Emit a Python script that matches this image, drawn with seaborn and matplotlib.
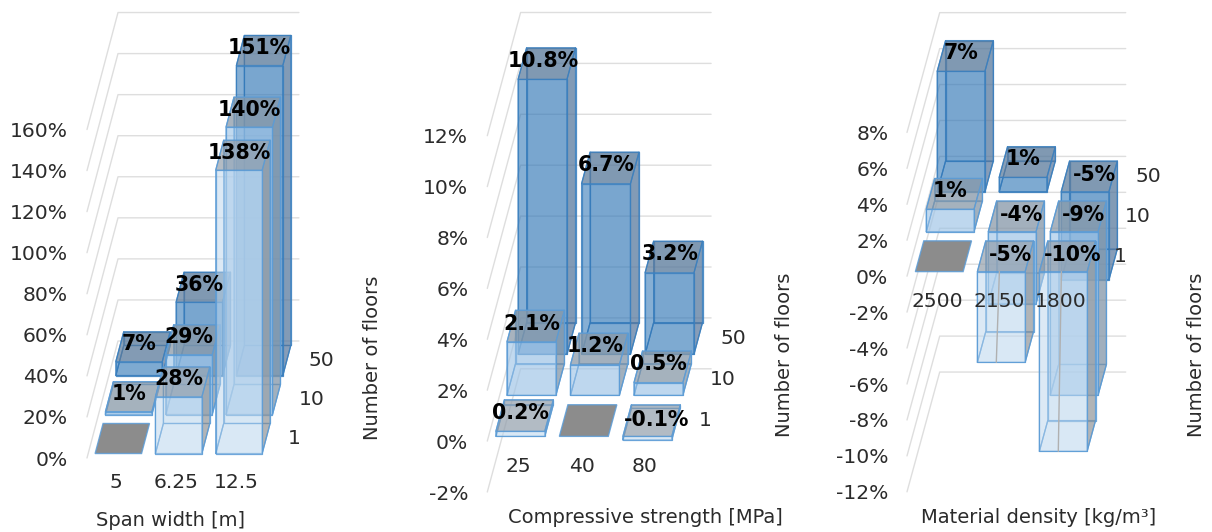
import matplotlib
matplotlib.use("Agg")
import matplotlib.pyplot as plt
from matplotlib.patches import Polygon
import seaborn as sns

# ---------- data ----------
floors = ["1", "10", "50"]

span_labels = ["5", "6.25", "12.5"]
span_floor1 = [0, 27.6, 138]
span_floor10 = [1.4, 29.1, 140]
span_floor50 = [6.7, 35.7, 151]
span_ticks = [0, 20, 40, 60, 80, 100, 120, 140, 160]

strength_labels = ["25", "40", "80"]
strength_floor1 = [0.2, 0, -0.14]
strength_floor10 = [2.1, 1.2, 0.5]
strength_floor50 = [10.8, 6.7, 3.2]
strength_ticks = [-2, 0, 2, 4, 6, 8, 10, 12]

density_labels = ["2500", "2150", "1800"]
density_floor1 = [0, -5.05, -10.0]
density_floor10 = [1.25, -4.0, -9.1]
density_floor50 = [6.7, 0.8, -4.9]
density_ticks = [-12, -10, -8, -6, -4, -2, 0, 2, 4, 6, 8]

x_titles = ["Span width [m]", "Compressive strength [MPa]", "Material density [kg/m³]"]
depth_title = "Number of floors"

# ---------- styling ----------
W, H = 1212, 532
sns.set_theme(style="white")
plt.rcParams["font.family"] = ["DejaVu Sans"]
TXT = "#2B2B2B"
GRID = "#DEDEDE"
FRONT = ["#BDD7EE", "#9DC3E6", "#2E75B6"]
FRONT_A = [0.45, 0.55, 0.50]
SIDE = ["#8C8C8C", "#80909F", "#5A7597"]
SIDE_A = [0.62, 0.66, 0.62]
TOP = ["#8C97A3", "#84929F", "#5C7896"]
TOP_A = [0.62, 0.66, 0.66]
EDGE = [(0.36, 0.61, 0.84, 0.85), (0.36, 0.61, 0.84, 0.9), (0.23, 0.50, 0.75, 0.85)]
GAP = 0.77


def px(n):
    return n * 72 / 100


panels = [
    dict(x0=87, zero=458.0, ppu=2.053, col=60.3, dx=31.0, dy=117.0, pad=19,
         cats=span_labels, rows=[span_floor1, span_floor10, span_floor50],
         ticks=span_ticks, dec=0),
    dict(x0=487.3, zero=441.1, ppu=25.45, col=63.5, dx=33.3, dy=123.2, pad=19,
         cats=strength_labels, rows=[strength_floor1, strength_floor10, strength_floor50],
         ticks=strength_ticks, dec=1),
    dict(x0=907, zero=276.2, ppu=17.97, col=62.0, dx=32.7, dy=119.8, pad=18.7,
         cats=density_labels, rows=[density_floor1, density_floor10, density_floor50],
         ticks=density_ticks, dec=0),
]
title_pos = [(170, 521), (645, 517.5), (1039, 517.5)]
depth_pos = [(373, 358), (785, 355), (1197, 355)]

fig = plt.figure(figsize=(W / 100, H / 100), dpi=100)
fig.patch.set_facecolor("white")

for g, tp, dp, xt in zip(panels, title_pos, depth_pos, x_titles):
    n = len(g["cats"])
    dxc = g["dx"] / g["col"] / len(floors)      # per floor row, in column units
    dyv = g["dy"] / g["ppu"] / len(floors)      # per floor row, in value units
    width = n * g["col"] + g["dx"]
    ax = fig.add_axes([g["x0"] / W, 0, width / W, 1])
    ax.set_xlim(0, width / g["col"])
    ax.set_ylim(-(H - g["zero"]) / g["ppu"], g["zero"] / g["ppu"])
    ax.patch.set_alpha(0)
    sns.despine(ax=ax, left=True, bottom=True)
    ax.set_xticks([])
    ax.set_yticks(g["ticks"])
    ax.set_yticklabels([f"{t}%" for t in g["ticks"]], fontsize=14.6, color=TXT)
    ax.tick_params(axis="y", length=0, pad=px(g["pad"]))

    def P(x, d, v):
        return (x + d * dxc, v + d * dyv)

    # walls
    top_d = len(floors)
    for t in g["ticks"]:
        pts = [P(0, 0, t), P(0, top_d, t), P(n, top_d, t)]
        ax.plot(*zip(*pts), color=GRID, lw=1.0, zorder=1, clip_on=False)

    z = 2
    for r in reversed(range(len(floors))):
        for c in range(n):
            val = g["rows"][r][c]
            xl, xr = c + (1 - GAP) / 2, c + (1 + GAP) / 2
            d0, d1 = r + (1 - GAP) / 2, r + (1 + GAP) / 2
            lo, hi = min(val, 0), max(val, 0)
            ec = EDGE[r]
            if val == 0:
                ax.add_patch(Polygon([P(xl, d0, 0), P(xr, d0, 0), P(xr, d1, 0), P(xl, d1, 0)],
                                     fc="#8C8C8C", ec=ec, lw=1.0, zorder=z))
                z += 1
                continue
            faces = [
                ([P(xl, d1, lo), P(xr, d1, lo), P(xr, d1, hi), P(xl, d1, hi)], FRONT[r], FRONT_A[r] * 0.55),
                ([P(xl, d0, lo), P(xl, d1, lo), P(xl, d1, hi), P(xl, d0, hi)], FRONT[r], FRONT_A[r] * 0.30),
                ([P(xl, d0, lo), P(xr, d0, lo), P(xr, d1, lo), P(xl, d1, lo)], FRONT[r], FRONT_A[r] * 0.45),
                ([P(xr, d0, lo), P(xr, d1, lo), P(xr, d1, hi), P(xr, d0, hi)], SIDE[r], SIDE_A[r]),
                ([P(xl, d0, lo), P(xr, d0, lo), P(xr, d0, hi), P(xl, d0, hi)], FRONT[r], FRONT_A[r]),
                ([P(xl, d0, hi), P(xr, d0, hi), P(xr, d1, hi), P(xl, d1, hi)], TOP[r], TOP_A[r]),
            ]
            for pts, fc, a in faces:
                rgba = matplotlib.colors.to_rgba(fc, a)
                ax.add_patch(Polygon(pts, fc=rgba, ec=ec, lw=0.9, zorder=z, joinstyle="round"))
                z += 1
            if val < 0 and r == 0 and g["dec"] == 0:
                xm = (xl + xr) / 2 - 0.03
                a0, b0 = P(xm, d0, 0)
                ax.plot([a0, a0 - 0.05], [b0, val + d0 * dyv], color="#B0B0B0", lw=1.0, zorder=z)
                z += 1

    # value labels
    for r in range(len(floors)):
        for c in range(n):
            val = g["rows"][r][c]
            if val == 0:
                continue
            cx, cy = P(c + 0.5, r + 0.5, max(val, 0))
            off = (-4, 2.5) if val > 0 else (5, 1)
            ax.annotate(f"{val:.{g['dec']}f}%", (cx, cy), xytext=(px(off[0]), px(off[1])),
                        textcoords="offset points", ha="center", va="center",
                        fontsize=14.8, fontweight="bold", color="black", zorder=1000,
                        annotation_clip=False)

    # category and floor labels
    for c, lab in enumerate(g["cats"]):
        ax.annotate(lab, P(c + 0.5, 0, 0), xytext=(px(-1), px(-25)), textcoords="offset points",
                    ha="center", va="center", fontsize=14.6, color=TXT, zorder=900,
                    annotation_clip=False)
    for r, lab in enumerate(floors):
        ax.annotate(lab, P(n, r + 0.5, 0), xytext=(px(15), 0), textcoords="offset points",
                    ha="left", va="center", fontsize=14.6, color=TXT, zorder=900,
                    annotation_clip=False)

    fig.text(tp[0] / W, 1 - tp[1] / H, xt, ha="center", va="center", fontsize=14.0, color=TXT)
    fig.text(dp[0] / W, 1 - dp[1] / H, depth_title, ha="center", va="center",
             rotation=90, fontsize=14.0, color=TXT)

fig.savefig("out.png", dpi=100, facecolor="white")
